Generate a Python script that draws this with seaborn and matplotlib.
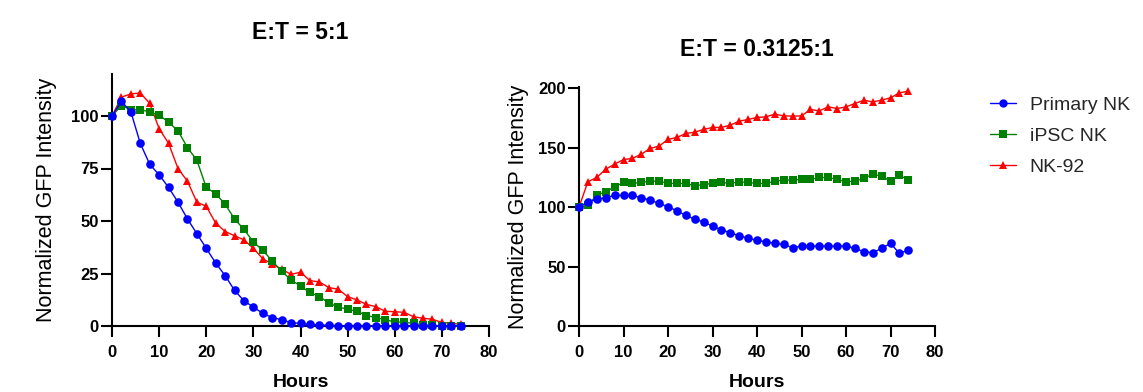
import numpy as np
import pandas as pd
import matplotlib
matplotlib.use("Agg")
import matplotlib.pyplot as plt
import seaborn as sns

# ---------------- data ----------------
hours = list(range(0, 76, 2))  # 0..74 h, every 2 h
categories = ["Primary NK", "iPSC NK", "NK-92"]

# E:T = 5:1
primary_5 = [100, 107, 102, 87, 77, 72, 66, 59, 51, 44, 37, 30, 24, 17, 12, 9, 6, 4, 3, 1.6,
             1.2, 0.8, 0.5, 0.3, 0.2, 0.1, 0, 0, 0, 0, 0, 0, 0, 0, 0, 0, 0, 0]
ipsc_5 = [100, 105, 103, 103, 102, 100.5, 97, 93, 85, 79, 66, 63, 58, 51, 46, 40, 36, 31, 26, 22,
          19, 16, 14, 11, 9, 8, 7, 5, 4, 3, 2, 1.7, 1.3, 0.5, 0.3, 0, 0, 0]
nk92_5 = [100, 109, 110.5, 111, 106, 94, 87, 75, 69, 59, 57, 49, 45, 43, 41, 37, 32, 29.5, 27, 24.6,
          25.6, 21.6, 21, 18.3, 17.5, 14, 12.4, 10.3, 9.2, 7, 6.8, 6.5, 4.4, 3.7, 3.2, 1.7, 1.3, 0.8]

# E:T = 0.3125:1
primary_03 = [100, 104.5, 106.4, 108, 109.8, 109.8, 109.8, 107.8, 105.9, 103.1, 100.3, 96.9, 93, 89.9,
              87.4, 84, 80.9, 78.4, 75.9, 73.9, 72, 70.9, 69.5, 68.6, 65.8, 67.2, 67.2, 67.2, 67.2,
              67.2, 67.2, 65.3, 62.5, 61.6, 65.3, 69.5, 61.1, 63.9]
ipsc_03 = [100, 101.7, 110, 112.9, 117, 120.7, 119.9, 120.7, 121.8, 121.8, 119.9, 119.9, 119.9, 117.9,
           119, 119.9, 120.7, 119.9, 121.3, 120.7, 119.9, 119.9, 121.8, 122.7, 122.7, 123.3, 123.3,
           124.9, 124.9, 123.3, 121.3, 121.8, 124.1, 127.7, 126, 121.8, 126.9, 122.7]
nk92_03 = [100, 121.3, 124.9, 131.9, 136.1, 140, 140.9, 144.5, 149.3, 151.3, 156.9, 158.6, 161.9, 163,
           165.3, 167, 167, 168.9, 172.3, 173.7, 175.4, 175.9, 178.2, 176.7, 176.5, 176.7, 182.1,
           180.9, 184.3, 182.9, 184.3, 187.1, 189.9, 188.5, 189.9, 191.9, 196.1, 197.5]

x_ticks = [0, 10, 20, 30, 40, 50, 60, 70, 80]
y_ticks_left = [0, 25, 50, 75, 100]
y_ticks_right = [0, 50, 100, 150, 200]


def long_df(series):
    rows = []
    for name, vals in zip(categories, series):
        for h, v in zip(hours, vals):
            rows.append({"Hours": h, "Value": v, "Cell": name})
    return pd.DataFrame(rows)


df_left = long_df([primary_5, ipsc_5, nk92_5])
df_right = long_df([primary_03, ipsc_03, nk92_03])

# ---------------- style ----------------
sns.set_theme(style="ticks")
plt.rcParams["font.family"] = ["Liberation Sans", "DejaVu Sans"]

palette = {"Primary NK": "#0000FF", "iPSC NK": "#008000", "NK-92": "#FF0000"}
markers = {"Primary NK": "o", "iPSC NK": "s", "NK-92": "^"}
msize = {"Primary NK": 6.2, "iPSC NK": 5.4, "NK-92": 6.2}
zord = {"Primary NK": 5, "iPSC NK": 4, "NK-92": 3}

fig = plt.figure(figsize=(11.43, 3.92), dpi=100)
ax1 = fig.add_axes([112 / 1143, 66 / 392, 377 / 1143, 252 / 392])
ax2 = fig.add_axes([579 / 1143, 66 / 392, 356 / 1143, 239 / 392])


def draw(ax, df, yticks, ylim, title, tpad, lab_x, legend):
    sns.lineplot(data=df, x="Hours", y="Value", hue="Cell", style="Cell",
                 hue_order=categories, style_order=categories,
                 palette=palette, markers=markers, dashes=False,
                 linewidth=1.0, markeredgewidth=0, clip_on=False,
                 legend=legend, ax=ax)
    for line, name in zip(ax.lines[:3], categories):
        line.set_markersize(msize[name])
        line.set_zorder(zord[name])
    ax.set_xlim(0, 80)
    ax.set_ylim(*ylim)
    ax.set_xticks(x_ticks)
    ax.set_yticks(yticks)
    ax.set_xticklabels([str(t) for t in x_ticks], fontweight="bold", fontsize=12)
    ax.set_yticklabels([str(t) for t in yticks], fontweight="bold", fontsize=12)
    ax.tick_params(axis="both", length=8, width=1.5, color="black", labelcolor="black")
    ax.tick_params(axis="x", pad=6)
    ax.tick_params(axis="y", pad=1.5)
    for s in ["top", "right"]:
        ax.spines[s].set_visible(False)
    for s in ["left", "bottom"]:
        ax.spines[s].set_color("black")
        ax.spines[s].set_linewidth(1.5)
    ax.set_xlabel("Hours", fontsize=14, fontweight="bold", color="black", labelpad=10)
    ax.set_ylabel("Normalized GFP Intensity", fontsize=15.5, color="black")
    ax.yaxis.set_label_coords(lab_x, 0.5)
    ax.set_title(title, fontsize=16.5, fontweight="bold", pad=tpad, color="black")


draw(ax1, df_left, y_ticks_left, (0, 120), "E:T = 5:1", 25, (57 - 112) / 377, True)
draw(ax2, df_right, y_ticks_right, (0, 201), "E:T = 0.3125:1", 22, (529 - 579) / 356, False)

handles, labels = ax1.get_legend_handles_labels()
ax1.get_legend().remove()
fig.legend(handles, labels, loc="center left", bbox_to_anchor=(990 / 1143, 1 - 136 / 392),
           frameon=False, fontsize=14, handlelength=1.35, handletextpad=0.7,
           labelspacing=0.7, borderpad=0, borderaxespad=0)

fig.savefig("out.png", dpi=100)
